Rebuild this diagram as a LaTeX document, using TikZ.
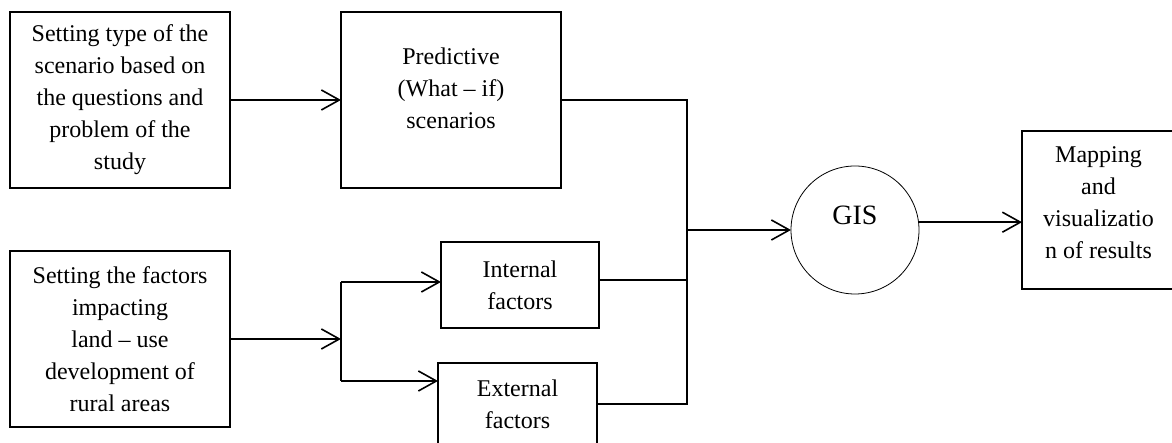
\documentclass[tikz,border=0pt]{standalone}
\usepackage{fontspec}
\setmainfont{Liberation Serif}
\usepackage{tikz}
\usetikzlibrary{shapes.geometric, arrows.meta, positioning}

\tikzset{
  block/.style={draw, line width=0.6pt, rectangle, align=center, outer sep=0pt, inner sep=2pt,
    minimum width=110pt, minimum height=88pt, font=\fontsize{12}{16}\selectfont},
  factor/.style={block, minimum width=79pt, minimum height=43pt},
  hub/.style={draw, line width=0.4pt, circle, outer sep=0pt, inner sep=0pt, minimum size=64pt,
    text height=10pt, text depth=15pt, font=\fontsize{14}{16}\selectfont},
  link/.style={line width=0.8pt},
  flow/.style={link, -{Straight Barb[length=9pt, width=10pt]}}
}

\begin{document}
\begin{tikzpicture}
\useasboundingbox (0,0) rectangle (586pt,221.5pt);

% Scenario branch
\node[block] (scen) at (60pt,171.5pt) {Setting type of the\\scenario based on\\the questions and\\problem of the\\study};
\node[block, right=55.5pt of scen] (pred) {Predictive\\(What -- if)\\scenarios\\[-4pt]\mbox{}};

% Factor branch
\node[block, below=31.5pt of scen] (fact) {Setting the factors\\impacting\\land -- use\\development of\\rural areas};
\node[factor] (inter) at (260pt,79pt) {Internal\\factors};
\node[factor, minimum width=79.5pt, minimum height=45pt] (exter) at (258.75pt,17.5pt) {External\\factors\\[-12pt]\mbox{}};

% GIS and output (the output box runs past the right margin)
\node[hub] (gis) at (427.5pt,106.5pt) {GIS};
\node[block, minimum width=100pt, minimum height=79pt] (map) at (561pt,116.5pt)
  {\begin{tabular}{@{}c@{\hspace{23.5pt}}}Mapping\\and\\visualizatio\\n of results\\[-10pt]\mbox{}\end{tabular}};

% Split of the factors
\coordinate (split) at (170.5pt,52pt);
\coordinate (inin) at ([yshift=1.5pt]inter.west);
\coordinate (exin) at ([yshift=-9pt]exter.north west);
\draw[flow] (scen) -- (pred);
\draw[flow] (fact.east) -- (split);
\draw[link] (inin -| split) -- (exin -| split);
\draw[flow] (inin -| split) -- (inin);
\draw[flow] (exin -| split) -- (exin);

% Collecting line towards GIS
\coordinate (bus) at (343.5pt,171.5pt);
\coordinate (inout) at ([yshift=2.5pt]inter.east);
\coordinate (exout) at ([yshift=2pt]exter.east);
\draw[link] (pred.east) -- (bus) -- (exout -| bus) -- (exout);
\draw[link] (inout) -- (inout -| bus);
\draw[flow] (gis.west -| bus) -- (gis.west);
\draw[flow] (gis.7) -- (gis.7 -| map.west);
\end{tikzpicture}
\end{document}
